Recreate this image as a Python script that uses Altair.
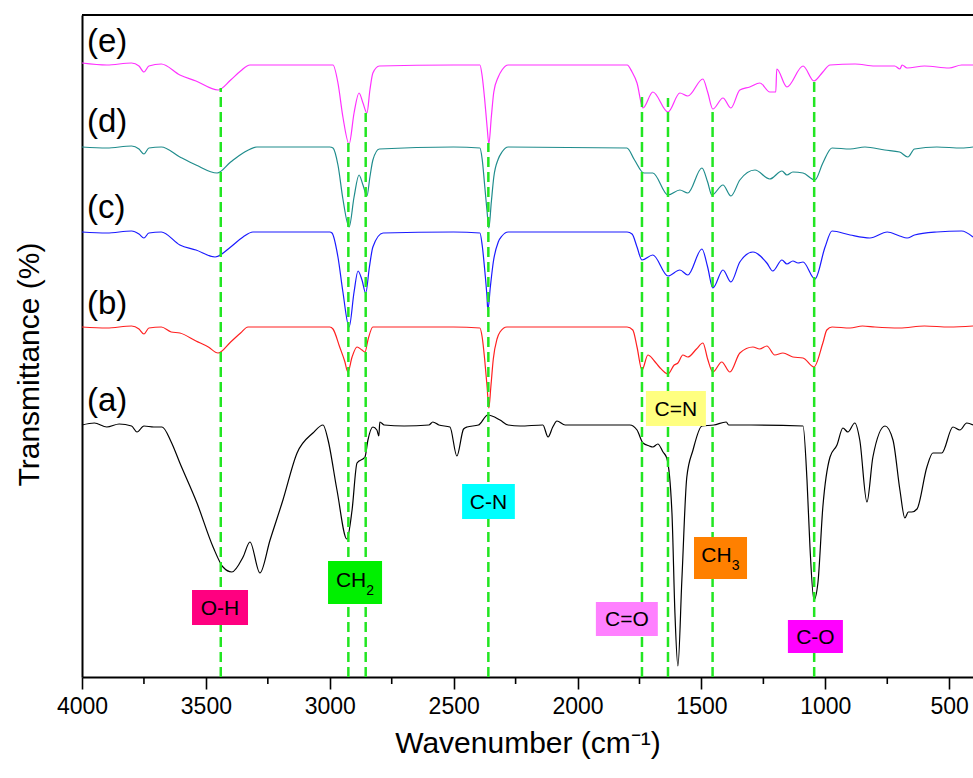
import altair as alt
import pandas as pd

# ---------------- data ----------------
samples = ["(a)", "(b)", "(c)", "(d)", "(e)"]
colors = ["#000000", "#ff2020", "#1a1aff", "#1f8c8c", "#ff30ff"]

# spectra: wavenumber (cm-1) and transmittance (arbitrary, offset units)
wn_a = [4000, 3950, 3900, 3850, 3800, 3778, 3750, 3710, 3677, 3640, 3605, 3536, 3471, 3431, 3395,
        3350, 3322, 3282, 3241, 3189, 3132, 3068, 3027, 3007, 2971, 2931, 2910, 2890, 2858, 2846,
        2826, 2810, 2802, 2798, 2780, 2700, 2600, 2584, 2560, 2515, 2487, 2460, 2446, 2400, 2362,
        2313, 2280, 2232, 2140, 2119, 2100, 2083, 2050, 1900, 1789, 1760, 1736, 1710, 1696, 1676,
        1655, 1640, 1619, 1607, 1595, 1579, 1559, 1534, 1498, 1450, 1400, 1390, 1300, 1090, 1074,
        1062, 1046, 1030, 1010, 981, 953, 929, 909, 881, 861, 832, 808, 759, 727, 699, 679, 665,
        651, 630, 590, 566, 530, 485, 457, 429, 404]
t_a = [252, 254, 250, 253, 251, 245, 251, 250, 250, 235, 214, 174, 130, 110, 105,
       120, 135, 104, 137, 177, 224, 244, 252, 237, 187, 138, 167, 214, 220, 237,
       250, 247, 241, 255, 252, 251, 252, 255, 252, 250, 221, 248, 250, 252, 262,
       257, 252, 251, 252, 240, 250, 256, 252, 252, 252, 247, 234, 231, 230, 233,
       225, 219, 164, 64, 11, 97, 200, 227, 251, 252, 255, 252, 252, 251, 197,
       130, 77, 94, 170, 220, 232, 249, 245, 254, 237, 175, 220, 251, 237, 187, 159, 165,
       165, 168, 210, 224, 224, 250, 247, 254, 252]

wn_b = [4000, 3900, 3800, 3770, 3750, 3730, 3680, 3640, 3605, 3540, 3490, 3451, 3400, 3360, 3330,
        3100, 3000, 2987, 2960, 2940, 2927, 2910, 2890, 2870, 2858, 2845, 2826, 2500,
        2394, 2385, 2375, 2365, 2358, 2350, 2340, 2325, 2313, 2285,
        1800, 1777, 1760, 1740, 1716, 1690, 1670, 1635, 1610, 1595, 1575, 1555, 1520, 1494,
        1475, 1454, 1418, 1385, 1345, 1292, 1265, 1236, 1204, 1171, 1131, 1090, 1046, 1010, 994,
        973, 900, 850, 800, 700, 600, 500, 404]
t_b = [350, 349, 351, 348, 343, 349, 350, 345, 344, 336, 330, 324, 335, 344, 350,
       350, 350, 348, 330, 316, 305, 320, 330, 327, 325, 338, 350, 350,
       349, 340, 318, 290, 269, 290, 318, 338, 345, 350,
       350, 347, 330, 307, 322, 316, 310, 303, 312, 314, 322, 320, 328, 334,
       318, 305, 315, 305, 324, 330, 328, 331, 322, 324, 320, 319, 310, 334, 347,
       350, 349, 351, 350, 349, 351, 350, 351]

wn_c = [4000, 3900, 3800, 3770, 3750, 3730, 3680, 3605, 3540, 3463, 3400, 3350, 3310, 3000,
        2991, 2967, 2947, 2922, 2902, 2886, 2870, 2855, 2840, 2826, 2785, 2500,
        2394, 2385, 2375, 2366, 2362, 2352, 2340, 2320, 2305, 2280,
        1800, 1780, 1760, 1740, 1696, 1635, 1587, 1555, 1498, 1475, 1454, 1413, 1381, 1345, 1292,
        1236, 1212, 1175, 1155, 1131, 1110, 1090, 1042, 1001, 973, 900, 820, 750, 700, 670, 640,
        550, 450, 404]
t_c = [445, 444, 446, 443, 439, 444, 445, 432, 427, 420, 430, 440, 445, 445,
       444, 420, 385, 350, 385, 406, 397, 384, 410, 430, 444, 445,
       444, 432, 408, 382, 367, 390, 415, 435, 441, 445,
       445, 443, 430, 417, 422, 401, 407, 402, 428, 410, 389, 407, 395, 415, 425,
       414, 406, 417, 413, 416, 414, 415, 398, 430, 446, 442, 439, 445, 441, 439, 442,
       445, 446, 440]

wn_d = [4000, 3900, 3800, 3770, 3750, 3730, 3680, 3605, 3540, 3455, 3400, 3350, 3294, 3000,
        2987, 2967, 2947, 2922, 2902, 2882, 2866, 2850, 2838, 2826, 2800, 2500,
        2394, 2385, 2375, 2365, 2358, 2348, 2338, 2320, 2305, 2280,
        1801, 1770, 1732, 1696, 1635, 1587, 1555, 1498, 1475, 1458, 1413, 1381, 1345, 1284, 1224,
        1175, 1155, 1131, 1090, 1042, 1010, 973, 900, 840, 760, 700, 667, 640, 550, 450, 404]
t_d = [530, 529, 531, 528, 523, 529, 530, 520, 512, 504, 515, 524, 530, 530,
       529, 512, 478, 450, 480, 502, 492, 481, 500, 517, 528, 530,
       529, 518, 492, 465, 449, 475, 500, 518, 525, 530,
       529, 517, 504, 504, 482, 487, 484, 509, 495, 482, 492, 481, 497, 507, 498,
       506, 502, 505, 504, 497, 514, 529, 528, 530, 527, 525, 520, 528, 530, 529, 530]

wn_e = [4000, 3900, 3800, 3770, 3750, 3730, 3680, 3605, 3540, 3451, 3400, 3360, 3322, 3000,
        2987, 2967, 2947, 2922, 2902, 2882, 2866, 2850, 2838, 2826, 2800, 2500,
        2394, 2385, 2375, 2365, 2358, 2348, 2338, 2320, 2305, 2280,
        1800, 1780, 1760, 1736, 1696, 1635, 1587, 1555, 1494, 1475, 1454, 1413, 1381, 1345, 1305,
        1264, 1224, 1200, 1196, 1155, 1090, 1046, 1010, 981, 880, 800, 720, 699, 690, 670, 600,
        500, 450, 404]
t_e = [614, 612, 614, 611, 605, 611, 613, 602, 596, 587, 597, 606, 612, 612,
       612, 594, 560, 533, 564, 584, 574, 564, 587, 604, 611, 612,
       612, 601, 578, 550, 533, 560, 585, 600, 607, 612,
       612, 605, 594, 569, 585, 565, 584, 581, 598, 585, 568, 579, 569, 587, 590,
       594, 585, 585, 608, 590, 611, 596, 605, 612, 613, 611, 611, 608, 612, 609, 611,
       609, 612, 612]

# assigned band positions (cm-1) and top of each guide line
band_wn = [3440, 2925, 2855, 2360, 1740, 1635, 1455, 1045]
band_top = [589, 534, 564, 534, 585, 579, 565, 595]

# band annotation boxes
ann_text = ["O-H", "CH", "C-N", "C=N", "CH", "C=O", "C-O"]
ann_sub = ["", "2", "", "", "3", "", ""]
ann_x1 = [3556, 3007, 2466, 1724, 1530, 1926, 1151]
ann_x2 = [3330, 2789, 2253, 1482, 1316, 1676, 929]
ann_y1 = [52, 73, 158, 251, 98, 41, 24]
ann_y2 = [87, 116, 193, 286, 140, 75, 57]
ann_fill = ["#ff0080", "#00f000", "#00ffff", "#ffff80", "#ff8000", "#ff80ff", "#ff00ff"]

# sample label positions
lab_wn = [3980] * 5
lab_t = [276, 373, 469, 555, 635]

x_ticks = [4000, 3500, 3000, 2500, 2000, 1500, 1000, 500]
x_minor = [3750, 3250, 2750, 2250, 1750, 1250, 750]

# ---------------- build tables ----------------
rows = []
for name, wns, ts in zip(samples, [wn_a, wn_b, wn_c, wn_d, wn_e], [t_a, t_b, t_c, t_d, t_e]):
    for w, t in zip(wns, ts):
        rows.append({"sample": name, "wn": w, "T": t})
spec = pd.DataFrame(rows)

bands = pd.DataFrame({"wn": band_wn, "top": band_top, "bottom": [0] * len(band_wn)})
ann = pd.DataFrame({"text": ann_text, "sub": ann_sub, "x1": ann_x1, "x2": ann_x2,
                    "y1": ann_y1, "y2": ann_y2, "fill": ann_fill})
ann["xc"] = (ann["x1"] + ann["x2"]) / 2
ann["yc"] = (ann["y1"] + ann["y2"]) / 2
ann["has_sub"] = ann["sub"] != ""
labs = pd.DataFrame({"text": samples, "wn": lab_wn, "T": lab_t})
minor = pd.DataFrame({"wn": x_minor})

FONT = "Liberation Sans"
W, H = 891, 662

xscale = alt.Scale(domain=[404, 4000], reverse=True, nice=False)
yscale = alt.Scale(domain=[0, 662], nice=False, zero=False)

xaxis = alt.Axis(values=x_ticks, format="d", title="Wavenumber (cm⁻¹)", grid=False,
                 tickSize=12, tickWidth=1.6, tickColor="black", domainWidth=2, domainColor="black",
                 labelFontSize=23, labelFont=FONT, labelColor="black", labelPadding=6,
                 titleFontSize=30, titleFont=FONT, titleFontWeight="normal", titleColor="black",
                 titlePadding=10, labelFlush=False)
yaxis = alt.Axis(title="Transmittance (%)", ticks=False, labels=False, grid=False,
                 domainWidth=2, domainColor="black", titleFontSize=30, titleFont=FONT,
                 titleFontWeight="normal", titleColor="black", titlePadding=38, titleY=349)

X = alt.X("wn:Q", scale=xscale, axis=xaxis)
Y = alt.Y("T:Q", scale=yscale, axis=yaxis)

lines = alt.Chart(spec).mark_line(strokeWidth=1.2, interpolate="monotone").encode(
    x=X, y=Y,
    color=alt.Color("sample:N", scale=alt.Scale(domain=samples, range=colors), legend=None),
    order=alt.Order("wn:Q", sort="descending"),
    detail="sample:N",
)

guides = alt.Chart(bands).mark_rule(color="#22e622", strokeWidth=2.5, strokeDash=[10, 5]).encode(
    x=alt.X("wn:Q", scale=xscale), y=alt.Y("bottom:Q", scale=yscale), y2="top:Q"
)

boxes = alt.Chart(ann).mark_rect().encode(
    x=alt.X("x1:Q", scale=xscale), x2="x2:Q",
    y=alt.Y("y1:Q", scale=yscale), y2="y2:Q",
    fill=alt.Fill("fill:N", scale=None),
)

box_text_plain = alt.Chart(ann).transform_filter("!datum.has_sub").mark_text(
    font=FONT, fontSize=21, color="black", baseline="middle", align="center", dy=1
).encode(x=alt.X("xc:Q", scale=xscale), y=alt.Y("yc:Q", scale=yscale), text="text:N")

box_text_main = alt.Chart(ann).transform_filter("datum.has_sub").mark_text(
    font=FONT, fontSize=21, color="black", baseline="middle", align="center", dx=-4, dy=-2
).encode(x=alt.X("xc:Q", scale=xscale), y=alt.Y("yc:Q", scale=yscale), text="text:N")

box_text_sub = alt.Chart(ann).transform_filter("datum.has_sub").mark_text(
    font=FONT, fontSize=14, color="black", baseline="middle", align="center", dx=15, dy=8
).encode(x=alt.X("xc:Q", scale=xscale), y=alt.Y("yc:Q", scale=yscale), text="sub:N")

sample_labels = alt.Chart(labs).mark_text(
    font=FONT, fontSize=33, color="black", align="left", baseline="middle"
).encode(x=alt.X("wn:Q", scale=xscale), y=alt.Y("T:Q", scale=yscale), text="text:N")

minor_ticks = alt.Chart(minor).mark_rule(color="black", strokeWidth=1.6).encode(
    x=alt.X("wn:Q", scale=xscale), y=alt.value(H), y2=alt.value(H + 7)
)

top_frame = alt.Chart(minor).mark_rule(color="black", strokeWidth=2).encode(
    x=alt.value(0), x2=alt.value(W + 5), y=alt.value(0)
)

chart = alt.layer(
    lines, guides, boxes, box_text_plain, box_text_main, box_text_sub,
    sample_labels, minor_ticks, top_frame
).properties(
    width=W, height=H,
    autosize=alt.AutoSizeParams(type="none"),
    padding={"left": 82, "top": 15, "right": 0, "bottom": 101},
    background="white",
).configure_view(stroke=None)

chart.save("out.html", embed_options={"renderer": "svg", "actions": False})
